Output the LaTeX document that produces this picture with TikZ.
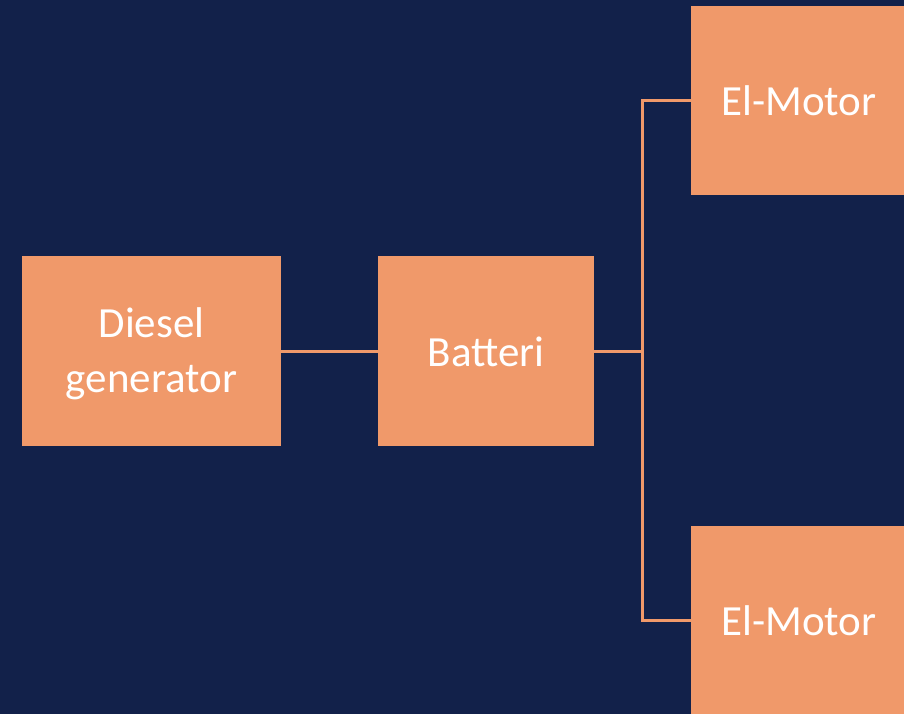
\documentclass[tikz,border=0pt]{standalone}
\usepackage{fontspec}
\setmainfont{Carlito}
\definecolor{navy}{HTML}{12214A}
\definecolor{boxorange}{HTML}{F0996A}
\begin{document}
\begin{tikzpicture}[x=1pt,y=-1pt,
  block/.style={fill=boxorange, draw=none, text=white, align=center,
    inner sep=0pt, font=\fontsize{43}{55}\selectfont},
  link/.style={draw=boxorange, line width=3pt}]
\useasboundingbox (0,0) rectangle (904,714);
\clip (0,0) rectangle (904,714);
\fill[navy] (0,0) rectangle (904,714);
\node[block, minimum width=259pt, minimum height=190pt] (diesel) at (151.5,351) {};
\node[text=white, align=center, inner sep=0pt, font=\fontsize{43}{55}\selectfont] (dieseltext) at ([yshift=-3pt]diesel.center) {Diesel\\generator};
\node[block, minimum width=216pt, minimum height=190pt, text depth=0pt] (batt) at (486,351) {\raisebox{-2pt}{Batteri}};
\node[block, minimum width=216pt, minimum height=189pt] (m1) at (799,100.5) {\raisebox{-2pt}{El-Motor}};
\node[block, minimum width=216pt, minimum height=189pt] (m2) at (799,620.5) {\raisebox{-2pt}{El-Motor}};
\coordinate (j) at (642,351);
\draw[link] (diesel.east) -- (batt.west);
\draw[link] (batt.east) -- (j);
\draw[link] (m1.west) -| (j) |- (m2.west);
\end{tikzpicture}
\end{document}
